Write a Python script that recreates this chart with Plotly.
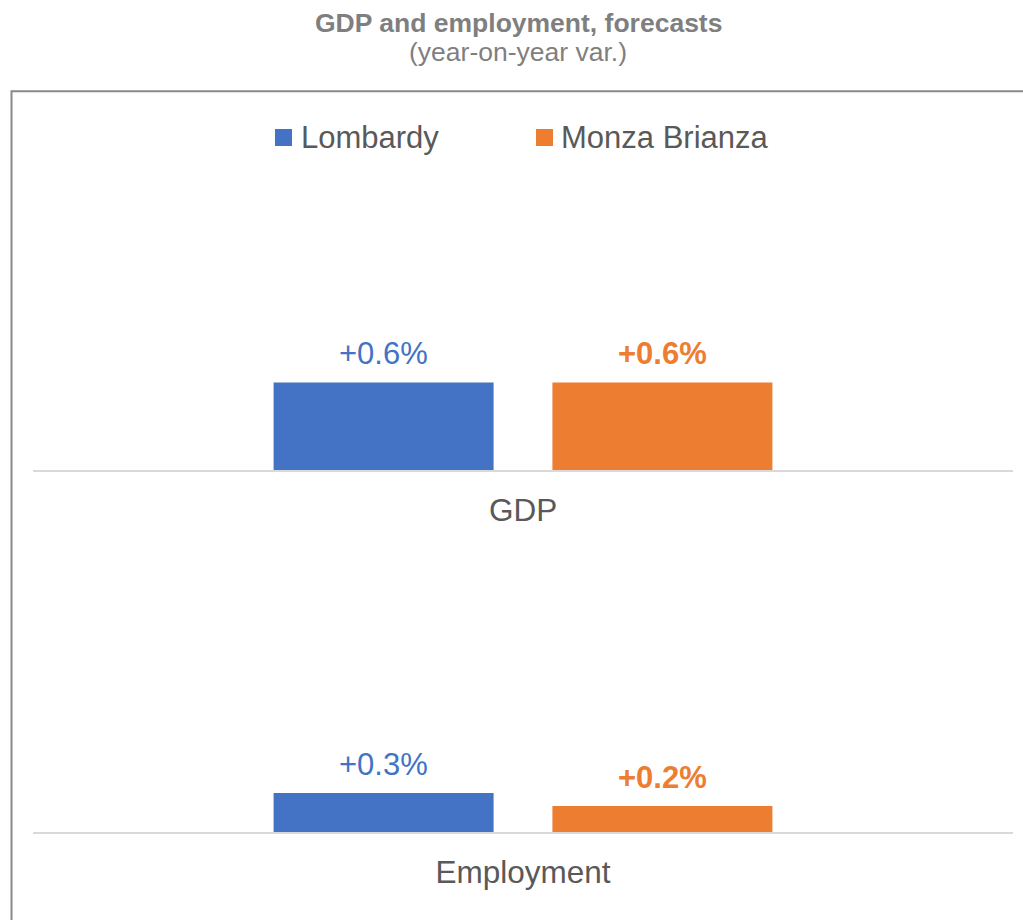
import plotly.graph_objects as go

# Forecast values (year-on-year % change)
series_names = ["Lombardy", "Monza Brianza"]
series_colors = ["#4472C4", "#ED7D31"]
gdp_values = [0.6, 0.6]
employment_values = [0.3, 0.2]
panel_categories = ["GDP", "Employment"]

W, H = 1023, 920
FONT = "Liberation Sans, Arial, sans-serif"

BARGAP = 0.431
BARGROUPGAP = 0.211


def px_x(p):
    return p / W


def px_y(p):
    return (H - p) / H


fig = go.Figure()

panels = [
    (panel_categories[0], gdp_values, "x", "y"),
    (panel_categories[1], employment_values, "x2", "y2"),
]

annotations = []
n_series = len(series_names)
slot = (1 - BARGAP) / n_series

for cat, vals, xa, ya in panels:
    for i, name in enumerate(series_names):
        v = vals[i]
        fig.add_trace(go.Bar(
            x=[cat], y=[v], name=name,
            marker=dict(color=series_colors[i], line=dict(width=0)),
            showlegend=False, xaxis=xa, yaxis=ya,
            hoverinfo="skip",
        ))
        # value label centred over its bar within the group
        center = -(1 - BARGAP) / 2 + slot * (i + 0.5)
        annotations.append(dict(
            text=f"+{v:.1f}%", x=center, y=v, xref=xa, yref=ya,
            xanchor="center", yanchor="middle", yshift=29, showarrow=False,
            font=dict(family=FONT, size=31, color=series_colors[i],
                      weight="bold" if i == 1 else "normal"),
        ))

x_dom = [px_x(33), px_x(1013)]
common_x = dict(
    domain=x_dom, showline=True, linecolor="#d9d9d9", linewidth=2,
    ticks="", showgrid=False, zeroline=False, range=[-0.5, 0.5],
    tickfont=dict(family=FONT, size=31.5, color="#595959"),
    ticklabelstandoff=11, fixedrange=True,
)
common_y = dict(showticklabels=False, showgrid=False, zeroline=False,
                showline=False, ticks="", fixedrange=True)

# GDP panel: baseline near y=470 px; employment panel: baseline near y=832 px
gdp_top, gdp_base = 180, 470
emp_top, emp_base = 560, 832
gdp_scale = 146.0   # px per unit
emp_scale = 130.0

fig.update_layout(
    width=W, height=H,
    margin=dict(l=0, r=0, t=0, b=0),
    paper_bgcolor="white", plot_bgcolor="white",
    barmode="group", bargap=BARGAP, bargroupgap=BARGROUPGAP,
    showlegend=False,
    xaxis=dict(common_x, anchor="y"),
    xaxis2=dict(common_x, anchor="y2"),
    yaxis=dict(common_y, domain=[px_y(gdp_base), px_y(gdp_top)],
               range=[0, (gdp_base - gdp_top) / gdp_scale], anchor="x"),
    yaxis2=dict(common_y, domain=[px_y(emp_base), px_y(emp_top)],
                range=[0, (emp_base - emp_top) / emp_scale], anchor="x2"),
)

annotations += [
    dict(text="<b>GDP and employment, forecasts</b>", x=px_x(518), y=px_y(23),
         xref="paper", yref="paper", xanchor="center", yanchor="middle",
         showarrow=False, font=dict(family=FONT, size=26.5, color="#7f7f7f")),
    dict(text="(year-on-year var.)", x=px_x(518), y=px_y(52),
         xref="paper", yref="paper", xanchor="center", yanchor="middle",
         showarrow=False, font=dict(family=FONT, size=26.5, color="#7f7f7f")),
]

shapes = [
    # chart frame
    dict(type="rect", xref="paper", yref="paper",
         x0=px_x(11.5), y0=px_y(91.3), x1=1.05, y1=-0.05,
         line=dict(color="#898989", width=2), fillcolor="rgba(0,0,0,0)"),
]

# legend: colour swatch + label
legend_pos = [(275, 299), (536, 559)]
for (sx, tx), name, col in zip(legend_pos, series_names, series_colors):
    shapes.append(dict(type="rect", xref="paper", yref="paper",
                       x0=px_x(sx), x1=px_x(sx + 17), y0=px_y(146), y1=px_y(129),
                       fillcolor=col, line=dict(width=0)))
    annotations.append(dict(text=name, x=px_x(tx), y=px_y(137.5),
                            xref="paper", yref="paper", xanchor="left", yanchor="middle",
                            showarrow=False,
                            font=dict(family=FONT, size=31, color="#595959")))

fig.update_layout(annotations=annotations, shapes=shapes)

fig.write_html("out.html")
